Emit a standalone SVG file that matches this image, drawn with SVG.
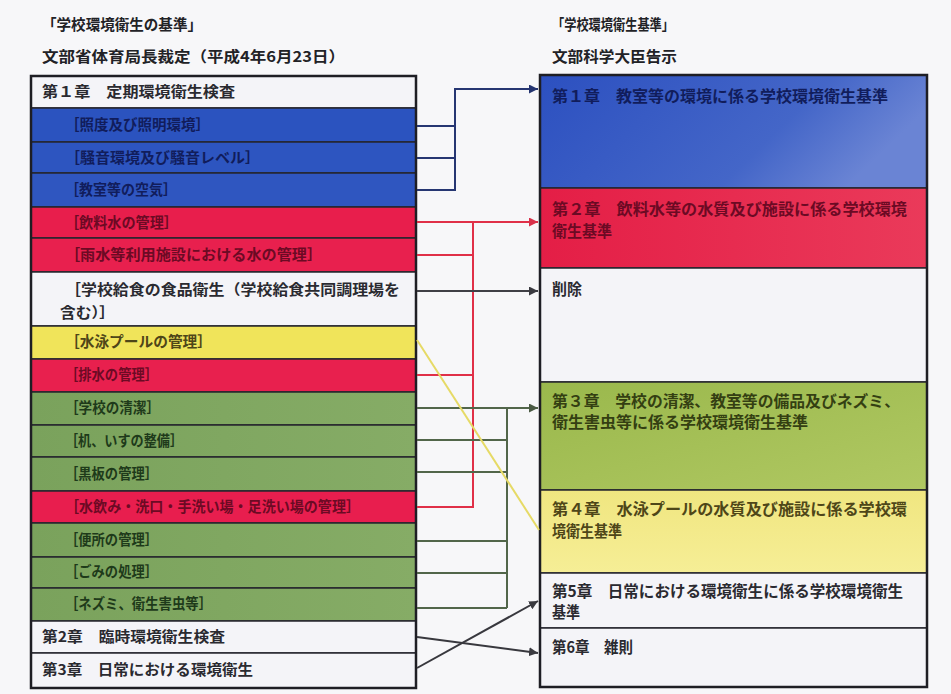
<svg xmlns="http://www.w3.org/2000/svg" width="951" height="694" viewBox="0 0 951 694">
<defs>
<style>
text{font-family:"Noto Sans CJK JP","Noto Sans CJK SC",sans-serif;font-weight:700;}
.h{font-size:15px;fill:#222226;}
.l{font-size:14.5px;}
.r{font-size:15.5px;}
.row{stroke:#26262e;stroke-width:1.5;}
.box{fill:none;stroke:#1e1e24;stroke-width:2.5;}
.tw{fill:#2a2a30;}
.tb{fill:#111d5c;}
.tr{fill:#6c0a24;}
.ty{fill:#4e4618;}
.tg{fill:#1e3a1a;}
.tgr{fill:#343f12;}
.c{fill:none;stroke-width:2;}
</style>
<linearGradient id="gb" x1="0" y1="0" x2="1" y2="0.3">
<stop offset="0" stop-color="#2c50c0"/><stop offset="0.7" stop-color="#4466c8"/><stop offset="1" stop-color="#6a84d4"/>
</linearGradient>
<linearGradient id="gr" x1="0" y1="0" x2="1" y2="0">
<stop offset="0" stop-color="#e41e46"/><stop offset="1" stop-color="#ea3a5a"/>
</linearGradient>
<linearGradient id="gg" x1="0" y1="0" x2="1" y2="1">
<stop offset="0" stop-color="#9ab84c"/><stop offset="1" stop-color="#b0c862"/>
</linearGradient>
<linearGradient id="gy" x1="0" y1="0" x2="0" y2="1">
<stop offset="0" stop-color="#f0e680"/><stop offset="1" stop-color="#f6ee96"/>
</linearGradient>
<linearGradient id="lg" x1="0" y1="0" x2="1" y2="0">
<stop offset="0" stop-color="#7aa25c"/><stop offset="1" stop-color="#86ac66"/>
</linearGradient>
<marker id="ab" viewBox="0 0 10 10" refX="10" refY="5" markerWidth="9" markerHeight="9" markerUnits="userSpaceOnUse" orient="auto"><path d="M0,0L10,5L0,10z" fill="#243470"/></marker>
<marker id="ar" viewBox="0 0 10 10" refX="10" refY="5" markerWidth="9" markerHeight="9" markerUnits="userSpaceOnUse" orient="auto"><path d="M0,0L10,5L0,10z" fill="#d8304a"/></marker>
<marker id="ak" viewBox="0 0 10 10" refX="10" refY="5" markerWidth="9" markerHeight="9" markerUnits="userSpaceOnUse" orient="auto"><path d="M0,0L10,5L0,10z" fill="#3a3a40"/></marker>
<marker id="ag" viewBox="0 0 10 10" refX="10" refY="5" markerWidth="9" markerHeight="9" markerUnits="userSpaceOnUse" orient="auto"><path d="M0,0L10,5L0,10z" fill="#4a5a44"/></marker>
</defs>
<rect width="951" height="694" fill="#f7f7f9"/>

<g id="header-left">
<text class="h" x="42" y="30" textLength="160" lengthAdjust="spacingAndGlyphs">「学校環境衛生の基準」</text>
<text class="h" x="42" y="62" textLength="303" lengthAdjust="spacingAndGlyphs">文部省体育局長裁定（平成4年6月23日）</text>
</g>
<g id="header-right">
<text class="h" x="552" y="30" textLength="122" lengthAdjust="spacingAndGlyphs">「学校環境衛生基準」</text>
<text class="h" x="552" y="62" textLength="125" lengthAdjust="spacingAndGlyphs">文部科学大臣告示</text>
</g>

<g id="left-table">
<g id="L-ch1"><rect class="row" x="31" y="76" width="385" height="32" fill="#f4f4f8"/><text class="l tw" x="42" y="97" textLength="193" lengthAdjust="spacingAndGlyphs">第１章　定期環境衛生検査</text></g>
<g id="L-b1"><rect class="row" x="31" y="108" width="385" height="34" fill="#2b53bf"/><text class="l tb" x="65" y="130" textLength="145" lengthAdjust="spacingAndGlyphs">［照度及び照明環境］</text></g>
<g id="L-b2"><rect class="row" x="31" y="142" width="385" height="31" fill="#2d55c0"/><text class="l tb" x="65" y="163" textLength="195" lengthAdjust="spacingAndGlyphs">［騒音環境及び騒音レベル］</text></g>
<g id="L-b3"><rect class="row" x="31" y="173" width="385" height="34" fill="#2f56c0"/><text class="l tb" x="65" y="195" textLength="112" lengthAdjust="spacingAndGlyphs">［教室等の空気］</text></g>
<g id="L-r1"><rect class="row" x="31" y="207" width="385" height="31" fill="#e81e4c"/><text class="l tr" x="65" y="228" textLength="113" lengthAdjust="spacingAndGlyphs">［飲料水の管理］</text></g>
<g id="L-r2"><rect class="row" x="31" y="238" width="385" height="34" fill="#e8204e"/><text class="l tr" x="65" y="260" textLength="257" lengthAdjust="spacingAndGlyphs">［雨水等利用施設における水の管理］</text></g>
<g id="L-w"><rect class="row" x="31" y="272" width="385" height="54" fill="#f4f4f8"/><text class="l tw" x="65" y="295" textLength="335" lengthAdjust="spacingAndGlyphs">［学校給食の食品衛生（学校給食共同調理場を</text><text class="l tw" x="60" y="318" textLength="55" lengthAdjust="spacingAndGlyphs">含む）］</text></g>
<g id="L-y"><rect class="row" x="31" y="326" width="385" height="33" fill="#f0e45a"/><text class="l ty" x="65" y="347" textLength="147" lengthAdjust="spacingAndGlyphs">［水泳プールの管理］</text></g>
<g id="L-r3"><rect class="row" x="31" y="359" width="385" height="33" fill="#e8204e"/><text class="l tr" x="65" y="380" textLength="93" lengthAdjust="spacingAndGlyphs">［排水の管理］</text></g>
<g id="L-g1"><rect class="row" x="31" y="392" width="385" height="33" fill="url(#lg)"/><text class="l tg" x="65" y="413" textLength="95" lengthAdjust="spacingAndGlyphs">［学校の清潔］</text></g>
<g id="L-g2"><rect class="row" x="31" y="425" width="385" height="32" fill="url(#lg)"/><text class="l tg" x="65" y="446" textLength="118" lengthAdjust="spacingAndGlyphs">［机、いすの整備］</text></g>
<g id="L-g3"><rect class="row" x="31" y="457" width="385" height="34" fill="url(#lg)"/><text class="l tg" x="65" y="479" textLength="93" lengthAdjust="spacingAndGlyphs">［黒板の管理］</text></g>
<g id="L-r4"><rect class="row" x="31" y="491" width="385" height="32" fill="#e81e4e"/><text class="l tr" x="65" y="512" textLength="295" lengthAdjust="spacingAndGlyphs">［水飲み・洗口・手洗い場・足洗い場の管理］</text></g>
<g id="L-g4"><rect class="row" x="31" y="523" width="385" height="34" fill="url(#lg)"/><text class="l tg" x="65" y="545" textLength="93" lengthAdjust="spacingAndGlyphs">［便所の管理］</text></g>
<g id="L-g5"><rect class="row" x="31" y="557" width="385" height="31" fill="url(#lg)"/><text class="l tg" x="65" y="577" textLength="93" lengthAdjust="spacingAndGlyphs">［ごみの処理］</text></g>
<g id="L-g6"><rect class="row" x="31" y="588" width="385" height="33" fill="url(#lg)"/><text class="l tg" x="65" y="609" textLength="147" lengthAdjust="spacingAndGlyphs">［ネズミ、衛生害虫等］</text></g>
<g id="L-ch2"><rect class="row" x="31" y="621" width="385" height="32" fill="#f4f4f8"/><text class="l tw" x="42" y="642" textLength="183" lengthAdjust="spacingAndGlyphs">第2章　臨時環境衛生検査</text></g>
<g id="L-ch3"><rect class="row" x="31" y="653" width="385" height="35" fill="#f4f4f8"/><text class="l tw" x="42" y="675" textLength="211" lengthAdjust="spacingAndGlyphs">第3章　日常における環境衛生</text></g>
<rect class="box" x="31" y="76" width="385" height="612"/>
</g>

<g id="right-table">
<g id="R-ch1"><rect class="row" x="540" y="75" width="387" height="113" fill="url(#gb)"/><text class="r tb" x="552" y="102" textLength="336" lengthAdjust="spacingAndGlyphs">第１章　教室等の環境に係る学校環境衛生基準</text></g>
<g id="R-ch2"><rect class="row" x="540" y="188" width="387" height="80" fill="url(#gr)"/><text class="r tr" x="552" y="215" textLength="355" lengthAdjust="spacingAndGlyphs">第２章　飲料水等の水質及び施設に係る学校環境</text><text class="r tr" x="552" y="237" textLength="60" lengthAdjust="spacingAndGlyphs">衛生基準</text></g>
<g id="R-del"><rect class="row" x="540" y="268" width="387" height="114" fill="#f4f4f8"/><text class="r tw" x="552" y="295" textLength="30" lengthAdjust="spacingAndGlyphs">削除</text></g>
<g id="R-ch3"><rect class="row" x="540" y="382" width="387" height="108" fill="url(#gg)"/><text class="r tgr" x="552" y="407" textLength="348" lengthAdjust="spacingAndGlyphs">第３章　学校の清潔、教室等の備品及びネズミ、</text><text class="r tgr" x="552" y="428" textLength="256" lengthAdjust="spacingAndGlyphs">衛生害虫等に係る学校環境衛生基準</text></g>
<g id="R-ch4"><rect class="row" x="540" y="490" width="387" height="83" fill="url(#gy)"/><text class="r ty" x="552" y="515" textLength="355" lengthAdjust="spacingAndGlyphs">第４章　水泳プールの水質及び施設に係る学校環</text><text class="r ty" x="552" y="537" textLength="70" lengthAdjust="spacingAndGlyphs">境衛生基準</text></g>
<g id="R-ch5"><rect class="row" x="540" y="573" width="387" height="55" fill="#f4f4f8"/><text class="r tw" x="552" y="597" textLength="351" lengthAdjust="spacingAndGlyphs">第5章　日常における環境衛生に係る学校環境衛生</text><text class="r tw" x="552" y="618" textLength="28" lengthAdjust="spacingAndGlyphs">基準</text></g>
<g id="R-ch6"><rect class="row" x="540" y="628" width="387" height="59" fill="#f4f4f8"/><text class="r tw" x="552" y="653" textLength="81" lengthAdjust="spacingAndGlyphs">第6章　雑則</text></g>
<rect class="box" x="540" y="75" width="387" height="612"/>
</g>

<g id="connectors">
<g stroke="#263672" class="c">
<path d="M417,126H455M417,158H455M417,190H455V89H538" marker-end="url(#ab)"/>
</g>
<g stroke="#e03048" class="c">
<path d="M417,222H538" marker-end="url(#ar)"/>
<path d="M417,255H473M473,222V507H417M417,375H473"/>
</g>
<path class="c" stroke="#404046" d="M417,291H538" marker-end="url(#ak)"/>
<g stroke="#52664a" class="c">
<path d="M417,408H538" marker-end="url(#ag)"/>
<path d="M417,440H507M417,472H507M417,541H507M417,573H507M417,608H507M507,408V608"/>
</g>
<path class="c" stroke="#e6da66" d="M417,340L539,530"/>
<path class="c" stroke="#38383e" d="M417,637L538,653" marker-end="url(#ak)"/>
<path class="c" stroke="#38383e" d="M417,668L538,601" marker-end="url(#ak)"/>
</g>
</svg>
